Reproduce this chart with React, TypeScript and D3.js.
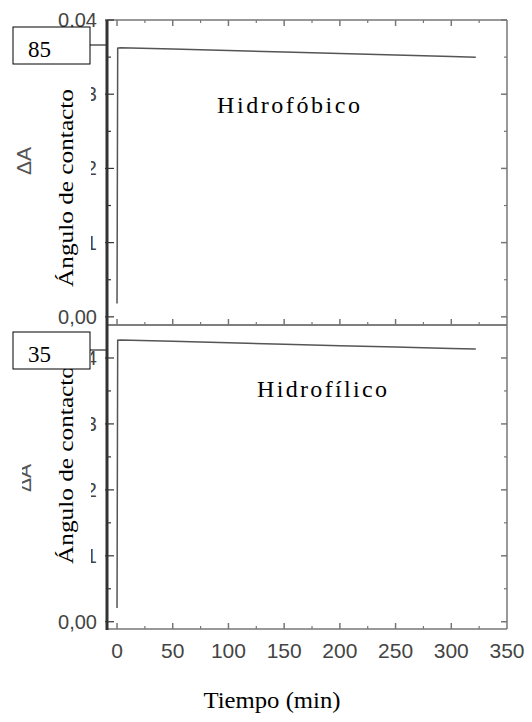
import React from "react";
import * as d3 from "d3";

// time in minutes, absorbance change for each surface
const timeMin = [0, 0.6, 3, 50, 100, 150, 200, 250, 300, 322];
const hidrofobico = [0.0018, 0.0362, 0.03627, 0.03608, 0.03588, 0.03568, 0.03548, 0.03528, 0.03508, 0.03499];
const hidrofilico = [0.0021, 0.0427, 0.04273, 0.04252, 0.0423, 0.04209, 0.04187, 0.04166, 0.04144, 0.04136];

const xTicks = [0, 50, 100, 150, 200, 250, 300, 350];
const yTicks = [0, 0.01, 0.02, 0.03, 0.04];
const yTickLabels = ["0,00", "0,01", "0,02", "0,03", "0,04"];
const angles = ["85", "35"];
const panelNames = ["Hidrofóbico", "Hidrofílico"];

const W = 532;
const H = 722;
const left = 107;
const right = 507;

const x = d3.scaleLinear().domain([-9, 350]).range([left, right]);
const yTop = d3.scaleLinear().domain([-0.0011, 0.04]).range([325, 20]);
const yBot = d3.scaleLinear().domain([-0.0011, 0.045]).range([629, 325]);

const frame = "#777";
const sans = { fontFamily: "Liberation Sans, Arial, sans-serif" };
const serif = { fontFamily: "Liberation Serif, Times New Roman, serif" };

type Panel = {
  y: d3.ScaleLinear<number, number>;
  values: number[];
  angle: string;
  name: string;
  nameX: number;
  nameY: number;
  nameLen: number;
  topTicks: boolean;
  showX: boolean;
};

const panels: Panel[] = [
  { y: yTop, values: hidrofobico, angle: angles[0], name: panelNames[0], nameX: 217, nameY: 113, nameLen: 143, topTicks: true, showX: false },
  { y: yBot, values: hidrofilico, angle: angles[1], name: panelNames[1], nameX: 257, nameY: 397, nameLen: 130, topTicks: false, showX: true },
];

function PanelView({ p, first }: { p: Panel; first: boolean }) {
  const [y0, y1] = p.y.range(); // bottom, top
  const line = d3
    .line<number>()
    .x((_, i) => x(timeMin[i]))
    .y((d) => p.y(d));
  const minorX = d3.range(25, 350, 50);
  const minorY = d3.range(0.005, p.y.domain()[1], 0.01);
  const majorY = yTicks.filter((t) => t <= p.y.domain()[1]);
  const labelTop = y1 + 12;
  const labelBot = y0 - 25;
  const axLabelMid = first ? 188 : 465;
  const deltaMid = first ? 161 : 478;
  const boxY = y1 + 7;
  return (
    <g>
      {/* y tick labels */}
      {majorY.map((t, i) => (
        <text key={"yl" + t} x={97} y={p.y(t)} textAnchor="end" dominantBaseline="central"
          style={sans} fontSize={20} fill="#444">
          {yTickLabels[i]}
        </text>
      ))}
      {/* white patch that hides most of the old tick labels */}
      <rect x={40} y={labelTop} width={51} height={labelBot - labelTop} fill="#fff" />
      <text transform={`translate(31,${deltaMid}) rotate(-90)`} textAnchor="middle"
        style={sans} fontSize={21} fill="#555">
        ΔA
      </text>
      {!first && <rect x={10} y={deltaMid - 20} width={12} height={40} fill="#fff" />}
      <text transform={`translate(73,${axLabelMid}) rotate(-90)`} textAnchor="middle"
        style={serif} fontSize={22} fill="#000" textLength={198} lengthAdjust="spacingAndGlyphs">
        Ángulo de contacto
      </text>

      {/* frame */}
      <line x1={left} x2={right} y1={y1} y2={y1} stroke={frame} strokeWidth={1.5} />
      <line x1={left} x2={right} y1={y0} y2={y0} stroke={frame} strokeWidth={1.5} />
      <line x1={right} x2={right} y1={y1} y2={y0} stroke={frame} strokeWidth={1.5} />

      {/* x ticks */}
      {xTicks.filter((t) => t < 350).map((t) => (
        <g key={"xt" + t}>
          <line x1={x(t)} x2={x(t)} y1={y0} y2={y0 - 6} stroke={frame} strokeWidth={1.5} />
          {p.topTicks && <line x1={x(t)} x2={x(t)} y1={y1} y2={y1 + 6} stroke={frame} strokeWidth={1.5} />}
        </g>
      ))}
      {minorX.map((t) => (
        <g key={"xm" + t}>
          <line x1={x(t)} x2={x(t)} y1={y0} y2={y0 - 3} stroke={frame} strokeWidth={1.2} />
          {p.topTicks && <line x1={x(t)} x2={x(t)} y1={y1} y2={y1 + 3} stroke={frame} strokeWidth={1.2} />}
        </g>
      ))}

      {/* y ticks */}
      {majorY.map((t) => (
        <g key={"yt" + t}>
          <line x1={left - 2} x2={left + 7} y1={p.y(t)} y2={p.y(t)} stroke="#333" strokeWidth={1.2} />
          <line x1={right} x2={right - 6} y1={p.y(t)} y2={p.y(t)} stroke={frame} strokeWidth={1.5} />
        </g>
      ))}
      {minorY.map((t) => (
        <g key={"ym" + t}>
          <line x1={left} x2={left + 4} y1={p.y(t)} y2={p.y(t)} stroke="#333" strokeWidth={1.2} />
          <line x1={right} x2={right - 3} y1={p.y(t)} y2={p.y(t)} stroke={frame} strokeWidth={1.2} />
        </g>
      ))}

      {/* data */}
      <path d={line(p.values) || ""} fill="none" stroke="#555" strokeWidth={1.5} />

      <text x={p.nameX} y={p.nameY} style={serif} fontSize={24} fill="#000"
        textLength={p.nameLen} lengthAdjust="spacing">
        {p.name}
      </text>

      {/* contact-angle box */}
      <rect x={13} y={boxY} width={77} height={37} fill="#fff" stroke="#000" strokeWidth={1} />
      <line x1={90} x2={left} y1={boxY + 18} y2={boxY + 18} stroke="#000" strokeWidth={1} />
      <text x={28} y={boxY + 30} style={serif} fontSize={23} fill="#000">
        {p.angle}
      </text>

      {p.showX &&
        xTicks.map((t) => (
          <text key={"xl" + t} x={x(t)} y={658} textAnchor="middle" style={sans} fontSize={21} fill="#444">
            {t}
          </text>
        ))}
    </g>
  );
}

export default function App() {
  return (
    <svg width={W} height={H} style={{ position: "absolute", left: 0, top: 0, background: "#fff" }}>
      {panels.map((p, i) => (
        <PanelView key={i} p={p} first={i === 0} />
      ))}
      {/* thick left axis over both panels */}
      <line x1={left} x2={left} y1={20} y2={630} stroke="#333" strokeWidth={3} />
      <text x={272} y={708} textAnchor="middle" style={serif} fontSize={23} fill="#000"
        textLength={137} lengthAdjust="spacingAndGlyphs">
        Tiempo (min)
      </text>
    </svg>
  );
}
